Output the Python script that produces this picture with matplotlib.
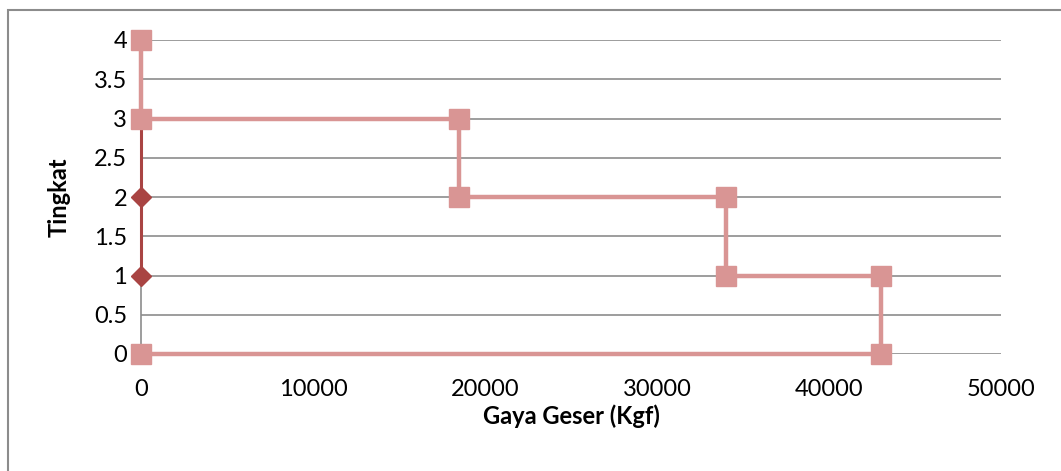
import matplotlib.pyplot as plt
from matplotlib.patches import Rectangle

# shear force per storey level (step profile)
gaya_geser = [0, 0, 18500, 18500, 34000, 34000, 43000, 43000, 0]
tingkat = [4, 3, 3, 2, 2, 1, 1, 0, 0]

# second series along the axis
gaya_2 = [0, 0, 0]
tingkat_2 = [3, 2, 1]

plt.rcParams['font.family'] = ['Lato', 'DejaVu Sans']

fig = plt.figure(figsize=(10.61, 4.71), dpi=100)
ax = fig.add_axes([141 / 1061, 1 - 354 / 471, 860 / 1061, 314 / 471])

ax.plot(gaya_2, tingkat_2, color='#A94443', lw=2.2, marker='D', ms=10,
        zorder=3, clip_on=False)
ax.plot(gaya_geser, tingkat, color='#D99594', lw=3.2, marker='s', ms=14,
        zorder=4, clip_on=False)

ax.set_xlim(0, 50000)
ax.set_ylim(0, 4)
ax.set_xticks(range(0, 50001, 10000))
ax.set_yticks([0, 0.5, 1, 1.5, 2, 2.5, 3, 3.5, 4])
ax.set_yticklabels(['0', '0.5', '1', '1.5', '2', '2.5', '3', '3.5', '4'])
ax.grid(axis='y', color='#8C8C8C', lw=1.2)
ax.set_axisbelow(True)
for s in ['top', 'right', 'bottom']:
    ax.spines[s].set_visible(False)
ax.spines['left'].set_color('#8C8C8C')
ax.spines['left'].set_linewidth(1.2)
ax.tick_params(length=0, labelsize=17, pad=10)
ax.tick_params(axis='x', pad=18)

ax.set_xlabel('Gaya Geser (Kgf)', fontsize=17, fontweight='bold', labelpad=3)
ax.set_ylabel('Tingkat', fontsize=17, fontweight='bold', labelpad=17)

# chart frame
fig.patches.append(Rectangle((8 / 1061, -0.1), 1.2, 1 - 10 / 471 + 0.1,
                             transform=fig.transFigure, fill=False,
                             ec='#8C8C8C', lw=1.5))

fig.savefig('out.png', dpi=100)
